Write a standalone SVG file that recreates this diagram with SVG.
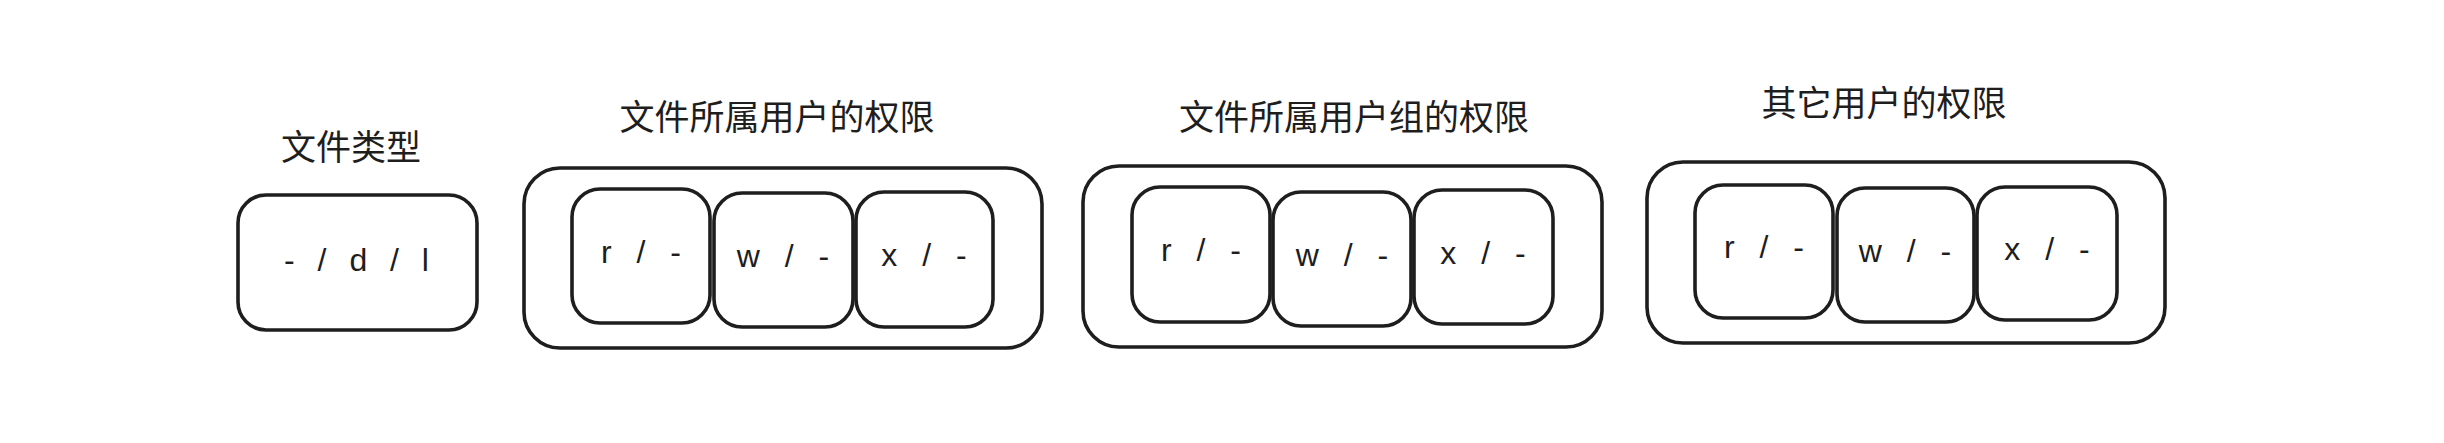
<svg xmlns="http://www.w3.org/2000/svg" width="2444" height="443" viewBox="0 0 2444 443">
<style>
.box{fill:#ffffff;stroke:#1e1e1e;stroke-width:3.6;}
.title{font-family:"Noto Sans CJK SC","Noto Sans",sans-serif;font-size:35px;fill:#1e1e1e;text-anchor:middle;}
.hand{font-family:"Liberation Sans",sans-serif;font-size:32px;fill:#1e1e1e;text-anchor:middle;letter-spacing:8px;}
</style>
<rect width="2444" height="443" fill="#ffffff"/>
<g id="filetype">
<text class="title" x="351" y="160">文件类型</text>
<rect class="box" x="238" y="195" width="239" height="135" rx="28"/>
<text class="hand" x="360" y="271" style="letter-spacing:7px">- / d / l</text>
</g>
<g id="owner">
<text class="title" x="777" y="130">文件所属用户的权限</text>
<rect class="box" x="524" y="168" width="518" height="180" rx="36"/>
<g id="owner-r"><rect class="box" x="572" y="189" width="138" height="134" rx="28"/><text class="hand" x="645" y="263">r / -</text></g>
<g id="owner-w"><rect class="box" x="714" y="193" width="139" height="134" rx="28"/><text class="hand" x="787" y="267">w / -</text></g>
<g id="owner-x"><rect class="box" x="856" y="192" width="137" height="135" rx="28"/><text class="hand" x="928" y="266">x / -</text></g>
</g>
<g id="group">
<text class="title" x="1354" y="130">文件所属用户组的权限</text>
<rect class="box" x="1083" y="166" width="519" height="181" rx="36"/>
<g id="group-r"><rect class="box" x="1132" y="187" width="138" height="135" rx="28"/><text class="hand" x="1205" y="261">r / -</text></g>
<g id="group-w"><rect class="box" x="1273" y="192" width="138" height="134" rx="28"/><text class="hand" x="1346" y="266">w / -</text></g>
<g id="group-x"><rect class="box" x="1414" y="190" width="139" height="134" rx="28"/><text class="hand" x="1487" y="264">x / -</text></g>
</g>
<g id="others">
<text class="title" x="1884" y="116">其它用户的权限</text>
<rect class="box" x="1647" y="162" width="518" height="181" rx="36"/>
<g id="others-r"><rect class="box" x="1695" y="185" width="138" height="133" rx="28"/><text class="hand" x="1768" y="258">r / -</text></g>
<g id="others-w"><rect class="box" x="1837" y="188" width="137" height="134" rx="28"/><text class="hand" x="1909" y="262">w / -</text></g>
<g id="others-x"><rect class="box" x="1977" y="187" width="140" height="133" rx="28"/><text class="hand" x="2051" y="260">x / -</text></g>
</g>
<g id="connectors"></g>
</svg>
